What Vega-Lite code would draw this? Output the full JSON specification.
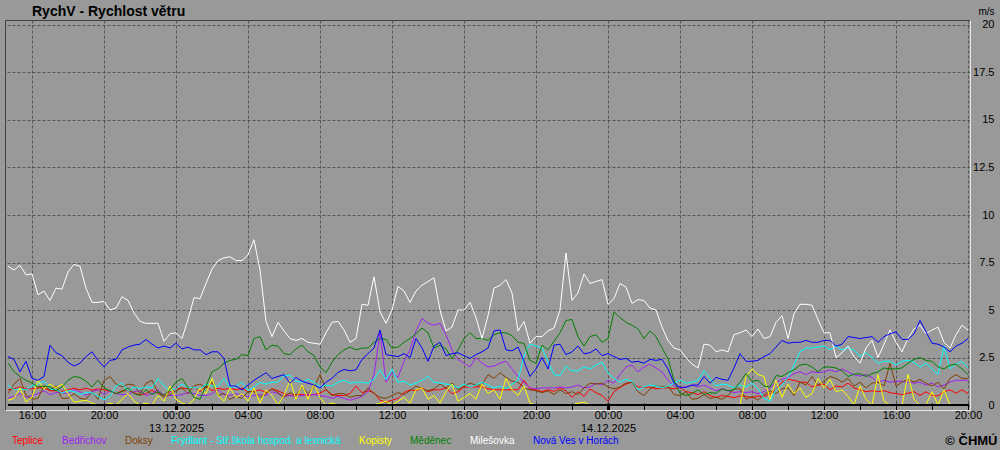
{
  "$schema": "https://vega.github.io/schema/vega-lite/v6.json",
  "width": 965,
  "height": 390,
  "autosize": {"type": "none"},
  "padding": {"left": 5, "top": 20, "right": 30, "bottom": 40},
  "background": "#999999",
  "config": {
    "view": {"stroke": "#404040", "fill": "#999999"},
    "font": "Liberation Sans"
  },
  "title": {
    "text": "RychV - Rychlost větru",
    "anchor": "start",
    "dx": 30,
    "dy": 17,
    "offset": 4,
    "fontSize": 14,
    "fontWeight": "bold",
    "color": "#000000",
    "font": "Liberation Sans"
  },
  "datasets": {
    "wind": [
      {"t":"2025-12-12T14:40","a":0.8,"b":0.35,"c":0.6,"d":1.05,"e":0.25,"f":2.2,"g":7.3,"h":2.55},
      {"t":"2025-12-12T15:00","a":0.85,"b":0.45,"c":1.1,"d":0.8,"e":0.35,"f":1.75,"g":7.1,"h":2.4},
      {"t":"2025-12-12T15:20","a":0.95,"b":0.6,"c":1.4,"d":0.85,"e":0.9,"f":1.5,"g":7.35,"h":1.75},
      {"t":"2025-12-12T15:40","a":0.85,"b":0.4,"c":0.5,"d":0.8,"e":0.15,"f":1.3,"g":6.85,"h":2.3},
      {"t":"2025-12-12T16:00","a":0.85,"b":0.5,"c":0.3,"d":1.0,"e":0.4,"f":1.15,"g":6.9,"h":1.4},
      {"t":"2025-12-12T16:20","a":0.9,"b":0.6,"c":0.35,"d":1.1,"e":1.3,"f":0.95,"g":5.8,"h":1.3},
      {"t":"2025-12-12T16:40","a":0.9,"b":0.75,"c":1.0,"d":1.25,"e":0.85,"f":1.0,"g":6.0,"h":1.5},
      {"t":"2025-12-12T17:00","a":0.75,"b":0.55,"c":0.8,"d":0.85,"e":1.1,"f":0.95,"g":5.5,"h":3.15},
      {"t":"2025-12-12T17:20","a":0.75,"b":0.65,"c":1.0,"d":0.8,"e":0.9,"f":0.75,"g":6.15,"h":2.75},
      {"t":"2025-12-12T17:40","a":0.72,"b":0.65,"c":0.35,"d":0.65,"e":1.1,"f":0.95,"g":6.1,"h":2.6},
      {"t":"2025-12-12T18:00","a":0.8,"b":0.6,"c":0.35,"d":0.75,"e":0.6,"f":1.3,"g":7.0,"h":2.25},
      {"t":"2025-12-12T18:20","a":0.88,"b":0.8,"c":0.6,"d":0.72,"e":0.15,"f":1.5,"g":7.4,"h":2.05},
      {"t":"2025-12-12T18:40","a":0.8,"b":0.7,"c":0.35,"d":0.55,"e":0.2,"f":1.45,"g":7.3,"h":2.2},
      {"t":"2025-12-12T19:00","a":0.88,"b":0.5,"c":0.3,"d":0.65,"e":0.25,"f":1.25,"g":6.15,"h":2.55},
      {"t":"2025-12-12T19:20","a":0.78,"b":0.7,"c":0.7,"d":0.65,"e":0.1,"f":0.95,"g":5.4,"h":2.8},
      {"t":"2025-12-12T19:40","a":0.85,"b":0.8,"c":0.3,"d":0.45,"e":0,"f":1.3,"g":5.4,"h":2.35},
      {"t":"2025-12-12T20:00","a":0.8,"b":0.55,"c":1.3,"d":0.28,"e":0,"f":0.9,"g":5.45,"h":2.0},
      {"t":"2025-12-12T20:20","a":0.72,"b":0.75,"c":1.5,"d":0.45,"e":0.1,"f":0.75,"g":5.0,"h":2.35},
      {"t":"2025-12-12T20:40","a":0.6,"b":0.6,"c":1.1,"d":1.0,"e":0,"f":0.6,"g":5.1,"h":2.4},
      {"t":"2025-12-12T21:00","a":0.75,"b":0.55,"c":0.95,"d":1.15,"e":0.3,"f":0.7,"g":5.7,"h":2.9},
      {"t":"2025-12-12T21:20","a":0.75,"b":0.55,"c":1.1,"d":0.7,"e":0.6,"f":0.9,"g":5.5,"h":3.05},
      {"t":"2025-12-12T21:40","a":0.65,"b":0.7,"c":1.05,"d":0.95,"e":0.2,"f":0.6,"g":4.85,"h":3.15},
      {"t":"2025-12-12T22:00","a":0.52,"b":0.75,"c":0.6,"d":0.85,"e":0,"f":0.5,"g":4.4,"h":3.2},
      {"t":"2025-12-12T22:20","a":0.6,"b":0.5,"c":1.15,"d":0.95,"e":0.1,"f":0.8,"g":4.3,"h":3.45},
      {"t":"2025-12-12T22:40","a":0.78,"b":0.6,"c":1.3,"d":0.9,"e":0,"f":0.55,"g":4.3,"h":3.2},
      {"t":"2025-12-12T23:00","a":0.62,"b":0.8,"c":0.65,"d":1.4,"e":0.5,"f":0.7,"g":4.3,"h":3.0},
      {"t":"2025-12-12T23:20","a":0.5,"b":0.5,"c":0.4,"d":1.0,"e":0.2,"f":0.5,"g":3.35,"h":3.1},
      {"t":"2025-12-12T23:40","a":0.7,"b":0.5,"c":0.55,"d":0.75,"e":1.0,"f":0.8,"g":3.75,"h":3.0},
      {"t":"2025-12-13T00:00","a":0.85,"b":0.5,"c":0.75,"d":0.85,"e":0.3,"f":1.2,"g":3.8,"h":3.25},
      {"t":"2025-12-13T00:20","a":0.9,"b":0.55,"c":0.9,"d":1.1,"e":0.1,"f":1.4,"g":3.5,"h":2.95},
      {"t":"2025-12-13T00:40","a":0.85,"b":0.65,"c":0.6,"d":0.9,"e":0,"f":0.9,"g":4.5,"h":3.05},
      {"t":"2025-12-13T01:00","a":1.0,"b":0.6,"c":1.0,"d":0.95,"e":0.3,"f":0.4,"g":5.65,"h":2.9},
      {"t":"2025-12-13T01:20","a":0.7,"b":0.5,"c":1.1,"d":0.85,"e":0.9,"f":0.3,"g":5.6,"h":2.9},
      {"t":"2025-12-13T01:40","a":1.0,"b":0.5,"c":0.9,"d":1.1,"e":0.6,"f":1.0,"g":6.4,"h":2.65},
      {"t":"2025-12-13T02:00","a":0.75,"b":0.6,"c":1.2,"d":1.0,"e":1.4,"f":1.75,"g":7.15,"h":2.8},
      {"t":"2025-12-13T02:20","a":0.88,"b":0.8,"c":0.5,"d":1.0,"e":0.5,"f":1.9,"g":7.6,"h":2.8},
      {"t":"2025-12-13T02:40","a":0.82,"b":0.55,"c":0.6,"d":1.4,"e":0.2,"f":2.2,"g":7.75,"h":2.45},
      {"t":"2025-12-13T03:00","a":0.88,"b":0.5,"c":0.3,"d":0.9,"e":0.9,"f":2.35,"g":7.8,"h":1.0},
      {"t":"2025-12-13T03:20","a":0.8,"b":0.6,"c":0.45,"d":1.0,"e":0.4,"f":2.4,"g":7.6,"h":1.0},
      {"t":"2025-12-13T03:40","a":0.88,"b":0.5,"c":0.35,"d":1.2,"e":0.6,"f":2.65,"g":7.6,"h":0.8},
      {"t":"2025-12-13T04:00","a":0.7,"b":0.45,"c":0.7,"d":0.75,"e":0.2,"f":2.6,"g":7.9,"h":1.05},
      {"t":"2025-12-13T04:20","a":0.72,"b":0.5,"c":0.7,"d":0.95,"e":0.9,"f":3.5,"g":8.7,"h":1.3},
      {"t":"2025-12-13T04:40","a":0.8,"b":0.55,"c":0.4,"d":1.2,"e":0.1,"f":3.6,"g":7.1,"h":1.5},
      {"t":"2025-12-13T05:00","a":0.65,"b":0.5,"c":0.6,"d":1.1,"e":0.8,"f":2.9,"g":4.4,"h":1.7},
      {"t":"2025-12-13T05:20","a":0.85,"b":0.7,"c":0.85,"d":1.2,"e":0.5,"f":3.15,"g":3.6,"h":1.4},
      {"t":"2025-12-13T05:40","a":0.75,"b":0.6,"c":0.65,"d":1.2,"e":0,"f":3.1,"g":4.35,"h":1.5},
      {"t":"2025-12-13T06:00","a":0.6,"b":0.45,"c":0.4,"d":1.55,"e":0.5,"f":2.7,"g":3.9,"h":1.6},
      {"t":"2025-12-13T06:20","a":0.5,"b":0.5,"c":0.65,"d":1.55,"e":1.3,"f":2.65,"g":3.5,"h":1.15},
      {"t":"2025-12-13T06:40","a":0.55,"b":0.45,"c":0.5,"d":1.25,"e":0.3,"f":2.95,"g":3.4,"h":1.45},
      {"t":"2025-12-13T07:00","a":0.55,"b":0.5,"c":0.95,"d":1.2,"e":1.05,"f":3.15,"g":3.5,"h":1.25},
      {"t":"2025-12-13T07:20","a":0.5,"b":0.55,"c":0.6,"d":1.35,"e":0.3,"f":2.8,"g":3.3,"h":1.15},
      {"t":"2025-12-13T07:40","a":0.55,"b":0.55,"c":0.95,"d":1.2,"e":1.1,"f":2.6,"g":3.25,"h":1.05},
      {"t":"2025-12-13T08:00","a":0.62,"b":0.5,"c":1.6,"d":0.95,"e":0.4,"f":2.0,"g":3.2,"h":0.9},
      {"t":"2025-12-13T08:20","a":0.8,"b":0.45,"c":0.8,"d":1.05,"e":0,"f":1.7,"g":3.8,"h":1.2},
      {"t":"2025-12-13T08:40","a":0.55,"b":0.35,"c":0.5,"d":1.0,"e":0.1,"f":2.25,"g":4.35,"h":1.4},
      {"t":"2025-12-13T09:00","a":0.5,"b":0.45,"c":0.6,"d":1.2,"e":0,"f":2.65,"g":4.4,"h":1.72},
      {"t":"2025-12-13T09:20","a":0.5,"b":0.35,"c":0.6,"d":1.3,"e":0,"f":2.9,"g":3.95,"h":1.87},
      {"t":"2025-12-13T09:40","a":0.6,"b":0.25,"c":0.4,"d":1.15,"e":0,"f":3.05,"g":3.3,"h":1.8},
      {"t":"2025-12-13T10:00","a":1.0,"b":0.35,"c":0.5,"d":1.2,"e":0,"f":2.9,"g":3.5,"h":1.85},
      {"t":"2025-12-13T10:20","a":0.65,"b":0.45,"c":0.5,"d":1.2,"e":0,"f":3.0,"g":5.3,"h":2.4},
      {"t":"2025-12-13T10:40","a":0.75,"b":0.7,"c":0.9,"d":1.15,"e":0,"f":3.0,"g":5.25,"h":2.7},
      {"t":"2025-12-13T11:00","a":0.65,"b":1.6,"c":0.6,"d":1.35,"e":0,"f":3.3,"g":6.75,"h":3.0},
      {"t":"2025-12-13T11:20","a":0.25,"b":3.8,"c":0.4,"d":1.85,"e":0.1,"f":3.5,"g":4.9,"h":3.95},
      {"t":"2025-12-13T11:40","a":0.15,"b":1.2,"c":0.35,"d":1.35,"e":0.2,"f":3.45,"g":4.3,"h":2.65},
      {"t":"2025-12-13T12:00","a":0.25,"b":1.7,"c":0.5,"d":1.9,"e":0,"f":3.0,"g":5.0,"h":2.6},
      {"t":"2025-12-13T12:20","a":0.35,"b":1.45,"c":0.65,"d":1.2,"e":0.2,"f":3.05,"g":6.25,"h":2.55},
      {"t":"2025-12-13T12:40","a":0.65,"b":2.3,"c":0.55,"d":1.25,"e":0.4,"f":3.3,"g":6.0,"h":2.7},
      {"t":"2025-12-13T13:00","a":0.8,"b":2.9,"c":0.75,"d":1.05,"e":0.1,"f":3.5,"g":5.4,"h":2.5},
      {"t":"2025-12-13T13:20","a":0.75,"b":3.9,"c":1.0,"d":1.15,"e":0.8,"f":3.75,"g":6.0,"h":3.5},
      {"t":"2025-12-13T13:40","a":0.9,"b":4.55,"c":0.85,"d":1.3,"e":0.9,"f":4.05,"g":6.3,"h":3.0},
      {"t":"2025-12-13T14:00","a":0.7,"b":4.3,"c":0.75,"d":1.5,"e":0.3,"f":3.8,"g":6.5,"h":2.3},
      {"t":"2025-12-13T14:20","a":0.8,"b":4.2,"c":0.85,"d":1.2,"e":0.5,"f":3.0,"g":6.7,"h":3.1},
      {"t":"2025-12-13T14:40","a":0.8,"b":4.3,"c":1.1,"d":1.15,"e":0.1,"f":3.15,"g":5.0,"h":3.3},
      {"t":"2025-12-13T15:00","a":0.9,"b":3.7,"c":0.9,"d":1.1,"e":0.7,"f":2.95,"g":3.9,"h":2.6},
      {"t":"2025-12-13T15:20","a":0.6,"b":2.9,"c":1.15,"d":1.05,"e":1.1,"f":2.45,"g":4.1,"h":2.7},
      {"t":"2025-12-13T15:40","a":0.7,"b":2.4,"c":0.8,"d":0.9,"e":0.2,"f":2.9,"g":5.0,"h":2.75},
      {"t":"2025-12-13T16:00","a":0.95,"b":2.2,"c":1.0,"d":1.1,"e":0.4,"f":3.5,"g":5.0,"h":2.6},
      {"t":"2025-12-13T16:20","a":0.95,"b":2.0,"c":1.15,"d":0.95,"e":0.6,"f":3.8,"g":5.4,"h":2.45},
      {"t":"2025-12-13T16:40","a":0.95,"b":2.5,"c":1.05,"d":1.05,"e":0.3,"f":3.5,"g":4.6,"h":2.65},
      {"t":"2025-12-13T17:00","a":0.95,"b":2.2,"c":1.05,"d":1.2,"e":1.1,"f":3.5,"g":3.5,"h":2.8},
      {"t":"2025-12-13T17:20","a":0.85,"b":2.0,"c":1.6,"d":1.05,"e":0.6,"f":3.4,"g":4.7,"h":3.0},
      {"t":"2025-12-13T17:40","a":0.8,"b":2.05,"c":1.4,"d":0.9,"e":0.8,"f":3.7,"g":6.15,"h":3.9},
      {"t":"2025-12-13T18:00","a":0.8,"b":2.2,"c":1.7,"d":1.0,"e":0.3,"f":3.8,"g":6.3,"h":3.95},
      {"t":"2025-12-13T18:20","a":0.8,"b":2.3,"c":1.45,"d":0.85,"e":1.4,"f":3.8,"g":6.6,"h":2.9},
      {"t":"2025-12-13T18:40","a":0.8,"b":1.9,"c":1.25,"d":1.1,"e":0.8,"f":3.65,"g":5.9,"h":2.85},
      {"t":"2025-12-13T19:00","a":0.8,"b":1.5,"c":1.2,"d":1.3,"e":0.5,"f":3.3,"g":3.9,"h":3.05},
      {"t":"2025-12-13T19:20","a":1.3,"b":1.2,"c":0.9,"d":2.6,"e":1.0,"f":3.25,"g":4.4,"h":2.3},
      {"t":"2025-12-13T19:40","a":0.85,"b":0.9,"c":0.8,"d":3.2,"e":0.1,"f":2.35,"g":3.25,"h":1.5},
      {"t":"2025-12-13T20:00","a":0.8,"b":0.85,"c":0.75,"d":3.1,"e":0,"f":2.2,"g":3.6,"h":1.9},
      {"t":"2025-12-13T20:20","a":0.7,"b":0.9,"c":0.65,"d":3.0,"e":0,"f":3.15,"g":3.6,"h":2.5},
      {"t":"2025-12-13T20:40","a":0.8,"b":0.9,"c":0.75,"d":2.3,"e":0,"f":2.9,"g":3.9,"h":1.9},
      {"t":"2025-12-13T21:00","a":0.72,"b":0.9,"c":0.55,"d":1.6,"e":0,"f":3.35,"g":4.05,"h":3.15},
      {"t":"2025-12-13T21:20","a":0.9,"b":0.95,"c":0.8,"d":1.55,"e":0,"f":3.8,"g":5.0,"h":3.2},
      {"t":"2025-12-13T21:40","a":0.75,"b":0.9,"c":0.6,"d":2.05,"e":0,"f":4.45,"g":8.0,"h":2.65},
      {"t":"2025-12-13T22:00","a":0.4,"b":0.95,"c":0.7,"d":1.8,"e":0,"f":4.5,"g":5.5,"h":2.8},
      {"t":"2025-12-13T22:20","a":0.7,"b":1.05,"c":0.55,"d":1.8,"e":0.1,"f":3.6,"g":5.9,"h":3.1},
      {"t":"2025-12-13T22:40","a":0.45,"b":0.9,"c":0.9,"d":2.0,"e":0.15,"f":3.1,"g":6.9,"h":2.7},
      {"t":"2025-12-13T23:00","a":0.85,"b":0.95,"c":1.15,"d":1.9,"e":0,"f":3.6,"g":6.4,"h":2.75},
      {"t":"2025-12-13T23:20","a":0.65,"b":1.15,"c":1.1,"d":2.1,"e":0,"f":3.7,"g":6.5,"h":2.95},
      {"t":"2025-12-13T23:40","a":0.5,"b":1.05,"c":1.15,"d":2.25,"e":0,"f":3.3,"g":6.6,"h":2.6},
      {"t":"2025-12-14T00:00","a":0.2,"b":1.3,"c":0.95,"d":1.7,"e":0,"f":3.5,"g":5.3,"h":2.7},
      {"t":"2025-12-14T00:20","a":0.7,"b":1.15,"c":0.85,"d":1.4,"e":0,"f":4.9,"g":5.6,"h":2.55},
      {"t":"2025-12-14T00:40","a":0.92,"b":1.6,"c":0.95,"d":1.2,"e":0,"f":4.6,"g":6.4,"h":2.4},
      {"t":"2025-12-14T01:00","a":1.1,"b":2.0,"c":1.15,"d":1.35,"e":0,"f":4.35,"g":6.2,"h":2.45},
      {"t":"2025-12-14T01:20","a":1.2,"b":2.1,"c":1.2,"d":1.25,"e":0,"f":4.2,"g":5.35,"h":2.25},
      {"t":"2025-12-14T01:40","a":0.95,"b":1.75,"c":0.7,"d":0.8,"e":0,"f":4.0,"g":5.55,"h":2.3},
      {"t":"2025-12-14T02:00","a":0.92,"b":2.0,"c":0.5,"d":0.95,"e":0,"f":3.5,"g":5.5,"h":2.2},
      {"t":"2025-12-14T02:20","a":0.95,"b":2.15,"c":0.85,"d":1.05,"e":0,"f":3.9,"g":5.1,"h":2.4},
      {"t":"2025-12-14T02:40","a":0.85,"b":1.95,"c":1.0,"d":1.0,"e":0,"f":3.6,"g":5.0,"h":2.35},
      {"t":"2025-12-14T03:00","a":0.9,"b":1.75,"c":0.95,"d":0.9,"e":0,"f":3.0,"g":4.1,"h":2.4},
      {"t":"2025-12-14T03:20","a":0.9,"b":1.3,"c":1.0,"d":1.0,"e":0,"f":2.45,"g":3.4,"h":1.9},
      {"t":"2025-12-14T03:40","a":0.85,"b":1.0,"c":0.55,"d":1.15,"e":0,"f":1.3,"g":3.0,"h":1.15},
      {"t":"2025-12-14T04:00","a":0.92,"b":0.9,"c":0.5,"d":1.3,"e":0,"f":0.6,"g":2.9,"h":0.93},
      {"t":"2025-12-14T04:20","a":0.7,"b":0.95,"c":0.7,"d":1.15,"e":0,"f":0.5,"g":2.5,"h":0.93},
      {"t":"2025-12-14T04:40","a":0.65,"b":1.05,"c":0.3,"d":1.2,"e":0,"f":0.6,"g":2.15,"h":1.05},
      {"t":"2025-12-14T05:00","a":0.55,"b":0.95,"c":0.35,"d":1.3,"e":0,"f":0.8,"g":1.95,"h":1.05},
      {"t":"2025-12-14T05:20","a":0.7,"b":1.05,"c":0.55,"d":1.8,"e":0,"f":0.55,"g":3.2,"h":1.5},
      {"t":"2025-12-14T05:40","a":0.5,"b":0.9,"c":0.35,"d":1.4,"e":0,"f":0.65,"g":3.15,"h":1.15},
      {"t":"2025-12-14T06:00","a":0.4,"b":0.75,"c":0.4,"d":1.0,"e":0,"f":0.62,"g":2.8,"h":1.45},
      {"t":"2025-12-14T06:20","a":0.5,"b":0.85,"c":0.3,"d":1.1,"e":0,"f":0.85,"g":2.9,"h":1.35},
      {"t":"2025-12-14T06:40","a":0.45,"b":0.75,"c":0.5,"d":1.05,"e":0,"f":0.75,"g":2.8,"h":1.3},
      {"t":"2025-12-14T07:00","a":0.38,"b":0.65,"c":0.85,"d":0.9,"e":0,"f":0.8,"g":3.7,"h":1.95},
      {"t":"2025-12-14T07:20","a":0.48,"b":0.7,"c":0.85,"d":1.05,"e":0,"f":1.2,"g":3.8,"h":2.7},
      {"t":"2025-12-14T07:40","a":0.45,"b":0.65,"c":0.3,"d":0.95,"e":1.5,"f":1.65,"g":3.95,"h":2.3},
      {"t":"2025-12-14T08:00","a":0.38,"b":0.7,"c":0.45,"d":1.15,"e":1.9,"f":1.25,"g":3.6,"h":2.3},
      {"t":"2025-12-14T08:20","a":0.48,"b":0.6,"c":0.25,"d":0.85,"e":1.6,"f":1.3,"g":4.0,"h":2.35},
      {"t":"2025-12-14T08:40","a":0.45,"b":0.7,"c":0.55,"d":0.35,"e":1.5,"f":1.0,"g":3.5,"h":2.55},
      {"t":"2025-12-14T09:00","a":0.6,"b":0.9,"c":0.75,"d":0.2,"e":0.3,"f":0.95,"g":3.6,"h":2.7},
      {"t":"2025-12-14T09:20","a":0.8,"b":1.2,"c":0.6,"d":0.8,"e":1.3,"f":1.55,"g":4.35,"h":3.05},
      {"t":"2025-12-14T09:40","a":1.2,"b":1.35,"c":0.85,"d":1.05,"e":0.4,"f":1.5,"g":4.7,"h":3.4},
      {"t":"2025-12-14T10:00","a":1.35,"b":1.45,"c":0.9,"d":1.45,"e":1.1,"f":1.7,"g":3.5,"h":3.25},
      {"t":"2025-12-14T10:20","a":1.3,"b":1.65,"c":0.5,"d":2.1,"e":0.6,"f":1.85,"g":4.8,"h":3.3},
      {"t":"2025-12-14T10:40","a":1.2,"b":1.75,"c":1.2,"d":2.8,"e":0.9,"f":2.1,"g":5.3,"h":3.3},
      {"t":"2025-12-14T11:00","a":1.2,"b":1.6,"c":1.05,"d":3.0,"e":0.4,"f":2.15,"g":5.3,"h":3.4},
      {"t":"2025-12-14T11:20","a":0.95,"b":1.75,"c":1.5,"d":3.0,"e":0.6,"f":2.0,"g":5.25,"h":3.3},
      {"t":"2025-12-14T11:40","a":1.05,"b":1.7,"c":1.05,"d":3.05,"e":1.4,"f":1.75,"g":4.5,"h":3.3},
      {"t":"2025-12-14T12:00","a":1.1,"b":1.75,"c":1.25,"d":3.1,"e":0.9,"f":2.0,"g":3.8,"h":3.4},
      {"t":"2025-12-14T12:20","a":0.8,"b":1.85,"c":1.5,"d":2.9,"e":1.35,"f":2.0,"g":3.8,"h":3.4},
      {"t":"2025-12-14T12:40","a":1.0,"b":1.75,"c":1.4,"d":3.1,"e":0.7,"f":1.95,"g":2.5,"h":3.1},
      {"t":"2025-12-14T13:00","a":0.95,"b":1.9,"c":1.2,"d":2.9,"e":0.8,"f":1.8,"g":2.75,"h":3.2},
      {"t":"2025-12-14T13:20","a":1.15,"b":1.75,"c":1.4,"d":3.0,"e":0.45,"f":1.5,"g":3.1,"h":3.6},
      {"t":"2025-12-14T13:40","a":0.9,"b":1.6,"c":1.0,"d":2.9,"e":0,"f":1.62,"g":2.55,"h":3.55},
      {"t":"2025-12-14T14:00","a":0.8,"b":1.52,"c":1.2,"d":2.55,"e":1.0,"f":1.65,"g":2.2,"h":3.5},
      {"t":"2025-12-14T14:20","a":0.7,"b":1.6,"c":0.9,"d":2.75,"e":0.3,"f":1.5,"g":3.0,"h":3.55},
      {"t":"2025-12-14T14:40","a":0.75,"b":1.45,"c":1.15,"d":2.5,"e":0,"f":1.65,"g":3.4,"h":3.6},
      {"t":"2025-12-14T15:00","a":0.7,"b":1.2,"c":1.2,"d":2.2,"e":1.6,"f":1.75,"g":2.5,"h":3.3},
      {"t":"2025-12-14T15:20","a":0.75,"b":1.3,"c":1.0,"d":2.3,"e":0.2,"f":1.95,"g":3.2,"h":3.6},
      {"t":"2025-12-14T15:40","a":0.65,"b":1.2,"c":2.2,"d":2.3,"e":0,"f":1.9,"g":3.95,"h":3.75},
      {"t":"2025-12-14T16:00","a":0.6,"b":1.25,"c":1.0,"d":2.1,"e":0,"f":1.9,"g":3.3,"h":3.85},
      {"t":"2025-12-14T16:20","a":0.55,"b":1.25,"c":1.2,"d":2.3,"e":0,"f":1.95,"g":2.8,"h":3.45},
      {"t":"2025-12-14T16:40","a":0.62,"b":1.2,"c":1.35,"d":2.35,"e":1.6,"f":2.2,"g":3.5,"h":3.45},
      {"t":"2025-12-14T17:00","a":0.7,"b":1.15,"c":1.2,"d":2.25,"e":0.3,"f":2.4,"g":4.0,"h":3.75},
      {"t":"2025-12-14T17:20","a":0.5,"b":1.2,"c":1.35,"d":2.0,"e":0,"f":2.5,"g":4.2,"h":4.45},
      {"t":"2025-12-14T17:40","a":0.7,"b":1.05,"c":1.15,"d":2.2,"e":0,"f":2.35,"g":3.75,"h":3.85},
      {"t":"2025-12-14T18:00","a":0.5,"b":1.15,"c":1.0,"d":1.9,"e":0.7,"f":2.3,"g":3.95,"h":3.25},
      {"t":"2025-12-14T18:20","a":0.48,"b":0.95,"c":1.2,"d":1.6,"e":0,"f":2.0,"g":4.1,"h":3.2},
      {"t":"2025-12-14T18:40","a":0.7,"b":1.05,"c":0.85,"d":3.1,"e":0.8,"f":1.9,"g":3.3,"h":3.05},
      {"t":"2025-12-14T19:00","a":0.8,"b":1.2,"c":1.4,"d":1.9,"e":0,"f":2.1,"g":3.0,"h":2.8},
      {"t":"2025-12-14T19:20","a":0.62,"b":1.3,"c":1.6,"d":2.15,"e":0,"f":2.15,"g":3.7,"h":3.1},
      {"t":"2025-12-14T19:40","a":0.8,"b":1.3,"c":1.4,"d":2.3,"e":0,"f":1.9,"g":4.2,"h":3.25},
      {"t":"2025-12-14T20:00","a":0.6,"b":1.3,"c":1.4,"d":1.95,"e":0,"f":1.6,"g":3.95,"h":3.5}
    ],
    "zeroline": [
      {"t1": "2025-12-12T14:40", "t2": "2025-12-14T20:00", "y": 0}
    ]
  },
  "layer": [
    {
      "data": {"name": "wind"},
      "transform": [
        {"fold": ["a", "b", "c", "d", "e", "f", "g", "h"], "as": ["k", "v"]}
      ],
      "mark": {"type": "line", "strokeWidth": 1},
      "encoding": {
        "x": {
          "field": "t",
          "type": "temporal",
          "scale": {
            "domain": [
              {"year": 2025, "month": 12, "date": 12, "hours": 14, "minutes": 30},
              {"year": 2025, "month": 12, "date": 14, "hours": 20, "minutes": 6, "seconds": 40}
            ],
            "nice": false
          },
          "axis": {
            "orient": "bottom",
            "tickCount": 100,
            "values": [
              {"year": 2025, "month": 12, "date": 12, "hours": 16},
              {"year": 2025, "month": 12, "date": 12, "hours": 18},
              {"year": 2025, "month": 12, "date": 12, "hours": 20},
              {"year": 2025, "month": 12, "date": 12, "hours": 22},
              {"year": 2025, "month": 12, "date": 13, "hours": 0},
              {"year": 2025, "month": 12, "date": 13, "hours": 2},
              {"year": 2025, "month": 12, "date": 13, "hours": 4},
              {"year": 2025, "month": 12, "date": 13, "hours": 6},
              {"year": 2025, "month": 12, "date": 13, "hours": 8},
              {"year": 2025, "month": 12, "date": 13, "hours": 10},
              {"year": 2025, "month": 12, "date": 13, "hours": 12},
              {"year": 2025, "month": 12, "date": 13, "hours": 14},
              {"year": 2025, "month": 12, "date": 13, "hours": 16},
              {"year": 2025, "month": 12, "date": 13, "hours": 18},
              {"year": 2025, "month": 12, "date": 13, "hours": 20},
              {"year": 2025, "month": 12, "date": 13, "hours": 22},
              {"year": 2025, "month": 12, "date": 14, "hours": 0},
              {"year": 2025, "month": 12, "date": 14, "hours": 2},
              {"year": 2025, "month": 12, "date": 14, "hours": 4},
              {"year": 2025, "month": 12, "date": 14, "hours": 6},
              {"year": 2025, "month": 12, "date": 14, "hours": 8},
              {"year": 2025, "month": 12, "date": 14, "hours": 10},
              {"year": 2025, "month": 12, "date": 14, "hours": 12},
              {"year": 2025, "month": 12, "date": 14, "hours": 14},
              {"year": 2025, "month": 12, "date": 14, "hours": 16},
              {"year": 2025, "month": 12, "date": 14, "hours": 18},
              {"year": 2025, "month": 12, "date": 14, "hours": 20}
            ],
            "grid": true,
            "gridColor": "#555555",
            "gridDash": [3, 2],
            "gridOpacity": {"condition": {"test": "hours(datum.value) % 4 == 0", "value": 1}, "value": 0},
            "ticks": true,
            "tickColor": "#000000",
            "tickSize": -7,
            "tickWidth": {"condition": {"test": "hours(datum.value) == 0", "value": 3}, "value": 1},
            "domainColor": "#e6e6e6",
            "labelExpr": "hours(datum.value) % 4 != 0 ? '' : hours(datum.value) == 0 ? [timeFormat(datum.value, '%H:%M'), timeFormat(datum.value, '%d.%m.%Y')] : timeFormat(datum.value, '%H:%M')",
            "labelOverlap": false,
            "labelFlush": false,
            "labelPadding": 6,
            "labelBaseline": "top",
            "labelLineHeight": 13,
            "labelFont": "Liberation Sans",
            "labelFontSize": 11,
            "labelColor": "#000000",
            "title": "© ČHMÚ",
            "titleX": 992,
            "titleY": 30,
            "titleAlign": "right",
            "titleBaseline": "middle",
            "titleFont": "Liberation Sans",
            "titleFontSize": 13,
            "titleFontWeight": "bold",
            "titleColor": "#000000"
          }
        },
        "y": {
          "field": "v",
          "type": "quantitative",
          "scale": {"domain": [-0.263, 20.263], "nice": false, "zero": false},
          "axis": {
            "orient": "right",
            "values": [0, 2.5, 5, 7.5, 10, 12.5, 15, 17.5, 20],
            "labelExpr": "'' + datum.value",
            "grid": true,
            "gridColor": "#555555",
            "gridDash": [3, 2],
            "ticks": false,
            "domainColor": "#e6e6e6",
            "labelAlign": "right",
            "labelPadding": 24,
            "labelFont": "Liberation Sans",
            "labelFontSize": 11,
            "labelColor": "#000000",
            "title": "m/s",
            "titleAngle": 0,
            "titleX": 24,
            "titleY": -9,
            "titleAlign": "right",
            "titleBaseline": "middle",
            "titleFont": "Liberation Sans",
            "titleFontSize": 10,
            "titleFontWeight": "normal",
            "titleColor": "#000000"
          }
        },
        "color": {
          "field": "k",
          "type": "nominal",
          "scale": {
            "domain": ["a", "b", "c", "d", "e", "f", "g", "h"],
            "range": ["#ff0000", "#a020f0", "#804000", "#00ffff", "#ffff00", "#008000", "#ffffff", "#0000ff"]
          },
          "legend": {
            "orient": "none",
            "legendX": -3,
            "legendY": 416,
            "direction": "horizontal",
            "columns": 8,
            "title": null,
            "labelExpr": "datum.label == 'a' ? 'Teplice' : datum.label == 'b' ? 'Bedřichov' : datum.label == 'c' ? 'Doksy' : datum.label == 'd' ? 'Frýdlant - Stř.škola hospod. a lesnická' : datum.label == 'e' ? 'Kopisty' : datum.label == 'f' ? 'Měděnec' : datum.label == 'g' ? 'Milešovka' : 'Nová Ves v Horách'",
            "symbolSize": 1,
            "symbolOpacity": 0,
            "labelOffset": 0,
            "labelFont": "Liberation Sans",
            "labelFontSize": 10,
            "labelLimit": 400,
            "columnPadding": 8,
            "encode": {"labels": {"update": {"fill": {"scale": "color", "field": "value"}}}}
          }
        }
      }
    },
    {
      "data": {"name": "zeroline"},
      "mark": {"type": "rule", "color": "#000000", "strokeWidth": 2},
      "encoding": {
        "x": {"field": "t1", "type": "temporal"},
        "x2": {"field": "t2"},
        "y": {"field": "y", "type": "quantitative"}
      }
    }
  ]
}
